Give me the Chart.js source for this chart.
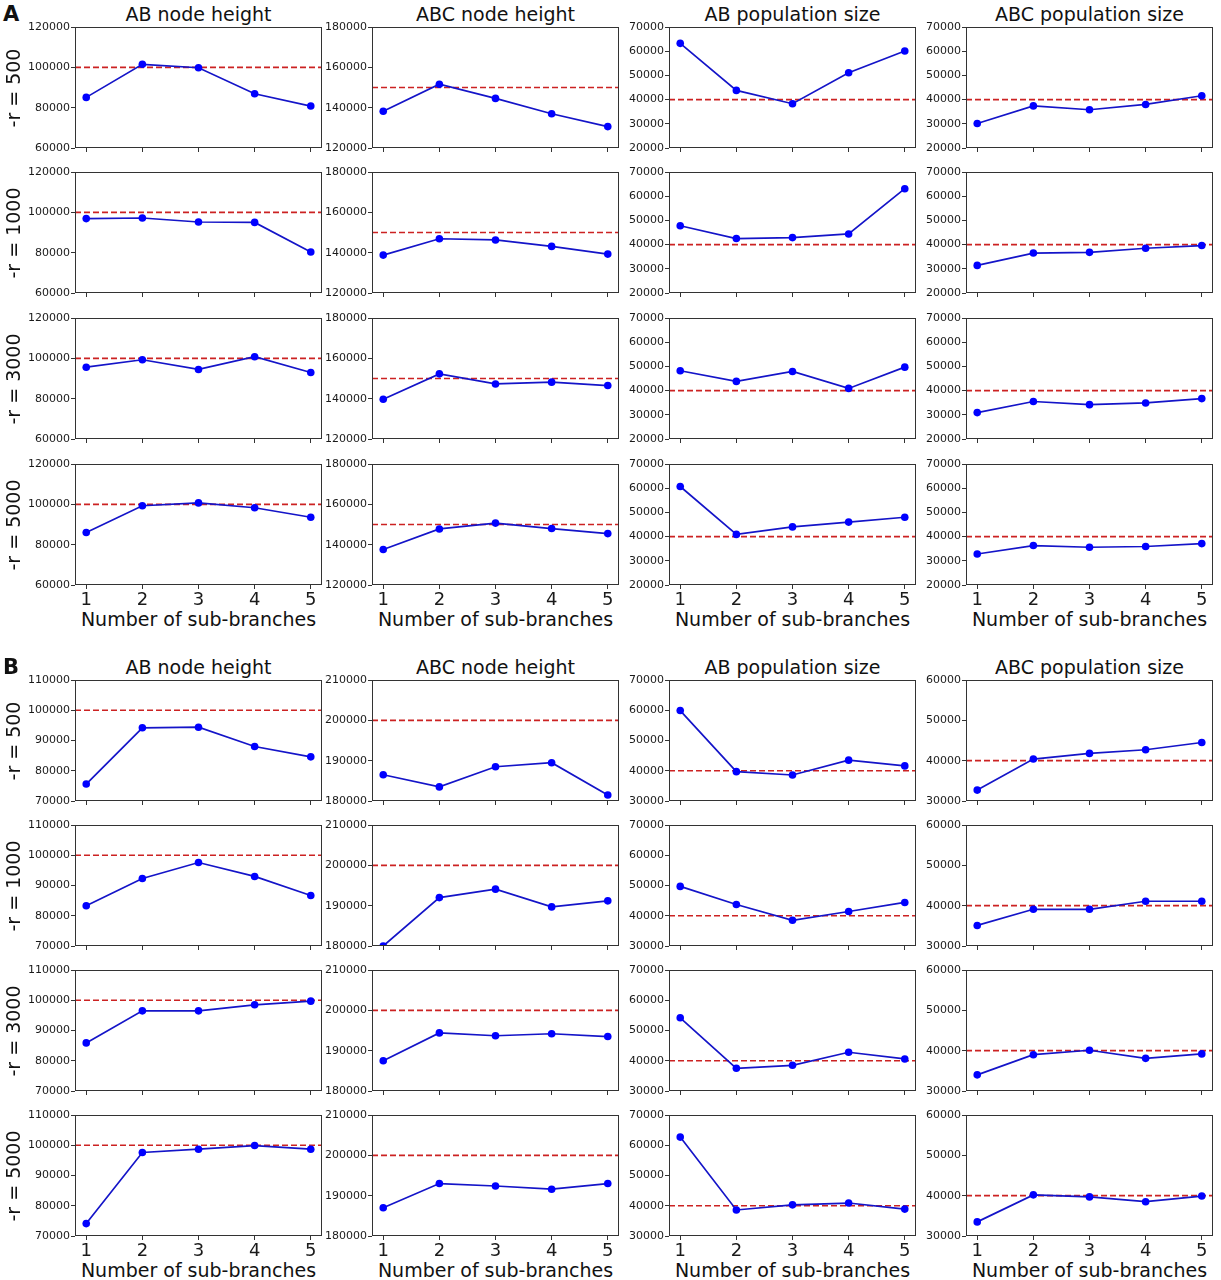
<!DOCTYPE html>
<html><head><meta charset="utf-8">
<script src="https://cdn.jsdelivr.net/npm/chart.js@4.4.1/dist/chart.umd.min.js"></script>
<style>
html,body{margin:0;padding:0;background:#fff;}
#wrap{position:relative;width:1221px;height:1280px;overflow:hidden;font-family:"DejaVu Sans",sans-serif;color:#111;}
canvas{position:absolute;}
.t{position:absolute;white-space:nowrap;transform:translate(-50%,-50%);font-size:19px;line-height:1;}
.rl{position:absolute;white-space:nowrap;transform:translate(-50%,-50%) rotate(-90deg);font-size:19px;line-height:1;}
.pl{position:absolute;font-weight:bold;font-size:21px;line-height:1;}
</style></head><body><div id="wrap"></div>
<script>
// ---------- data ----------
const subBranches = [1, 2, 3, 4, 5];
const rowLabels = ["-r = 500", "-r = 1000", "-r = 3000", "-r = 5000"];
const colTitles = ["AB node height", "ABC node height", "AB population size", "ABC population size"];
const xLabel = "Number of sub-branches";

// Panel A (rows: -r = 500, 1000, 3000, 5000)
const A_abNode  = [[85100,101500,99800,86900,80800],[96900,97200,95200,95000,80300],[95600,99300,94500,100800,93000],[86000,99300,100700,98300,93600]];
const A_abcNode = [[138200,151600,144600,137000,130600],[138800,146900,146300,143100,139300],[139700,152300,147300,148200,146500],[137600,147800,150700,148000,145500]];
const A_abPop   = [[63250,43800,38300,51100,60100],[47800,42500,42900,44400,63100],[48200,43800,47900,40900,49700],[60700,40900,44000,46000,48000]];
const A_abcPop  = [[30100,37400,35800,38000,41600],[31400,36500,36800,38500,39600],[30900,35500,34200,34900,36700],[32800,36300,35600,35900,37100]];
// Panel B
const B_abNode  = [[75600,94200,94400,88000,84600],[83300,92300,97600,93000,86700],[85900,96500,96500,98500,99700],[74100,97600,98700,99900,98700]];
const B_abcNode = [[186500,183500,188500,189500,181500],[180000,192000,194100,189700,191200],[187500,194400,193700,194200,193500],[187000,193000,192400,191600,193000]];
const B_abPop   = [[59900,39700,38600,43500,41600],[49700,43700,38500,41400,44400],[54200,37500,38500,42800,40600],[62700,38600,40300,40900,38900]];
const B_abcPop  = [[32700,40400,41800,42700,44500],[35100,39100,39100,41100,41100],[34000,39000,40100,38100,39200],[33500,40200,39700,38500,39900]];

// true values (red dashed lines)
const A_truth = [100000, 150000, 40000, 40000];
const B_truth = [100000, 200000, 40000, 40000];

// y tick labels
const A_yTicks = [[60000,80000,100000,120000],[120000,140000,160000,180000],[20000,30000,40000,50000,60000,70000],[20000,30000,40000,50000,60000,70000]];
const B_yTicks = [[70000,80000,90000,100000,110000],[180000,190000,200000,210000],[30000,40000,50000,60000,70000],[30000,40000,50000,60000]];

// ---------- layout ----------
const colLeft = [75, 372, 669, 966];
const plotW = 247, plotH = 121;
const rowTopA = [27, 172, 318, 464];
const rowTopB = [680, 825, 970, 1115];
const PADL = 60, PADT = 8, PADR = 8;
const xMin = 0.8, xMax = 5.2;

const wrap = document.getElementById('wrap');

function addText(cls, txt, x, y, extra) {
  const d = document.createElement('div');
  d.className = cls; d.textContent = txt;
  d.style.left = x + 'px'; d.style.top = y + 'px';
  if (extra) Object.assign(d.style, extra);
  wrap.appendChild(d);
}

const framePlugin = {
  id: 'frame',
  afterDraw(chart) {
    const a = chart.chartArea, c = chart.ctx;
    c.save();
    c.strokeStyle = '#333'; c.lineWidth = 1;
    c.strokeRect(Math.round(a.left) + 0.5, Math.round(a.top) + 0.5, Math.round(a.right - a.left) - 1, Math.round(a.bottom - a.top) - 1);
    c.restore();
  }
};

function makeChart(left, top, values, truth, yTicks, bottomRow) {
  const bottomH = bottomRow ? 34 : 8;
  const cv = document.createElement('canvas');
  const W = PADL + plotW + PADR, H = PADT + plotH + bottomH;
  cv.width = W; cv.height = H;
  cv.style.left = (left - PADL) + 'px'; cv.style.top = (top - PADT) + 'px';
  cv.style.width = W + 'px'; cv.style.height = H + 'px';
  wrap.appendChild(cv);
  new Chart(cv, {
    type: 'line',
    data: {
      datasets: [
        {
          data: subBranches.map((x, i) => ({x: x, y: values[i]})),
          borderColor: '#1414c8', borderWidth: 1.7,
          pointRadius: 3.8, pointBackgroundColor: '#0000ff', pointBorderWidth: 0,
          fill: false, clip: 0, tension: 0
        },
        {
          data: [{x: xMin, y: truth}, {x: xMax, y: truth}],
          borderColor: '#cc2222', borderWidth: 1.7, borderDash: [6, 3],
          pointRadius: 0, fill: false, clip: 0
        }
      ]
    },
    options: {
      responsive: false, animation: false, devicePixelRatio: 1,
      layout: { padding: { left: 0, top: PADT, right: PADR, bottom: 0 } },
      plugins: { legend: { display: false }, tooltip: { enabled: false } },
      events: [],
      scales: {
        x: {
          type: 'linear', min: xMin, max: xMax,
          afterBuildTicks: s => { s.ticks = subBranches.map(v => ({ value: v })); },
          afterFit: s => { s.height = bottomH; },
          grid: { drawOnChartArea: false, drawTicks: true, tickLength: 4, color: '#333', lineWidth: 1 },
          border: { display: false },
          ticks: { display: bottomRow, padding: 1, color: '#1a1a1a', font: { family: 'DejaVu Sans', size: 18 }, callback: v => String(v), maxRotation: 0 }
        },
        y: {
          type: 'linear', min: yTicks[0], max: yTicks[yTicks.length - 1],
          afterBuildTicks: s => { s.ticks = yTicks.map(v => ({ value: v })); },
          afterFit: s => { s.width = PADL; },
          grid: { drawOnChartArea: false, drawTicks: true, tickLength: 4, color: '#333', lineWidth: 1 },
          border: { display: false },
          ticks: { padding: 1, color: '#1a1a1a', font: { family: 'DejaVu Sans', size: 11 }, callback: v => String(v) }
        }
      }
    },
    plugins: [framePlugin]
  });
}

const panels = [
  { label: 'A', rowTop: rowTopA, series: [A_abNode, A_abcNode, A_abPop, A_abcPop], truth: A_truth, yTicks: A_yTicks },
  { label: 'B', rowTop: rowTopB, series: [B_abNode, B_abcNode, B_abPop, B_abcPop], truth: B_truth, yTicks: B_yTicks }
];

panels.forEach(p => {
  addText('pl', p.label, 3, p.rowTop[0] - 23);
  for (let c = 0; c < 4; c++) {
    const cx = colLeft[c] + plotW / 2;
    addText('t', colTitles[c], cx, p.rowTop[0] - 13);
    addText('t', xLabel, cx, p.rowTop[3] + plotH + 34);
    for (let r = 0; r < 4; r++) {
      makeChart(colLeft[c], p.rowTop[r], p.series[c][r], p.truth[c], p.yTicks[c], r === 3);
    }
  }
  for (let r = 0; r < 4; r++) {
    addText('rl', rowLabels[r], 13, p.rowTop[r] + plotH / 2);
  }
});
</script>
</body></html>
